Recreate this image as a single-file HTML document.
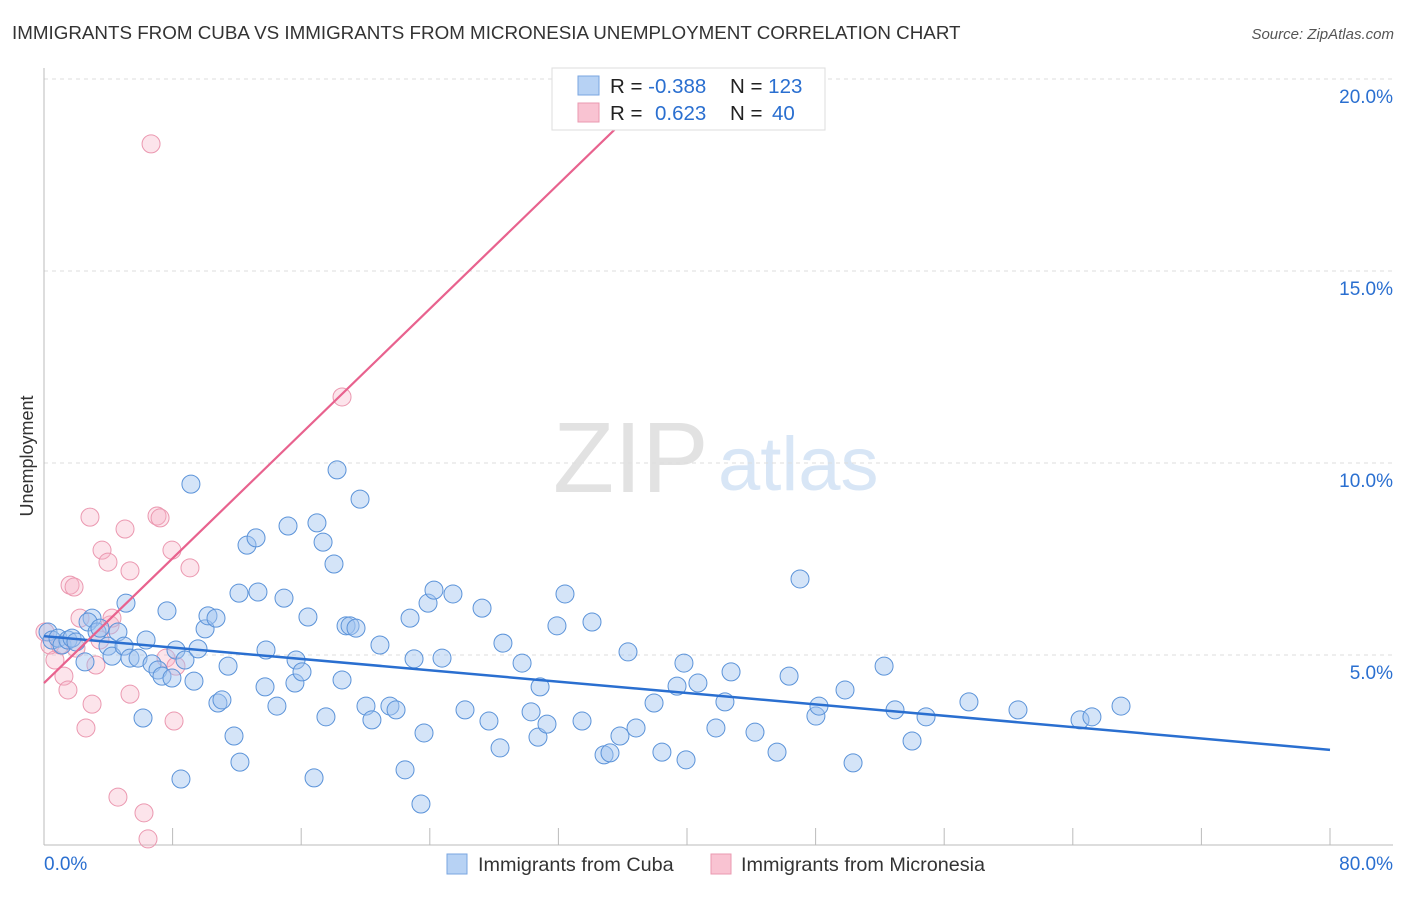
<!DOCTYPE html>
<html><head><meta charset="utf-8"><style>
body{margin:0;background:#fff;font-family:"Liberation Sans",sans-serif}
svg text{font-family:"Liberation Sans",sans-serif}
</style></head><body>
<svg width="1406" height="892" viewBox="0 0 1406 892" xmlns="http://www.w3.org/2000/svg">
<text x="12" y="39" font-size="18.8" fill="#333">IMMIGRANTS FROM CUBA VS IMMIGRANTS FROM MICRONESIA UNEMPLOYMENT CORRELATION CHART</text>
<text x="1394" y="39" font-size="15" fill="#555" font-style="italic" text-anchor="end">Source: ZipAtlas.com</text>
<g>
<text x="553" y="492" font-family="Liberation Serif" font-size="100" fill="#e2e2e2">ZIP</text>
<text x="718" y="490" font-size="76" fill="#d8e6f6">atlas</text>
</g>
<g id="grid"></g>
<g id="axes"></g>
<text transform="translate(33,456) rotate(-90)" font-size="18" fill="#333" text-anchor="middle">Unemployment</text>
<g id="pts"></g>
<g id="lines"></g>
<g>
<rect x="552" y="68" width="273" height="62" fill="#fff" stroke="#ddd"/>
<rect x="578" y="76" width="21" height="19" fill="#b7d2f4" stroke="#7aa6e0"/>
<rect x="578" y="103" width="21" height="19" fill="#f9c3d2" stroke="#ea9ab0"/>
<text x="610" y="93" font-size="20.5" fill="#222">R = <tspan fill="#2a6fd0">-0.388</tspan></text>
<text x="730" y="93" font-size="20.5" fill="#222">N = <tspan fill="#2a6fd0">123</tspan></text>
<text x="610" y="120" font-size="20.5" fill="#222">R = <tspan fill="#2a6fd0" x="655">0.623</tspan></text>
<text x="730" y="120" font-size="20.5" fill="#222">N = <tspan fill="#2a6fd0" x="772">40</tspan></text>
</g>
<g>
<rect x="447" y="854" width="20" height="20" fill="#b7d2f4" stroke="#7aa6e0"/>
<text x="478" y="871" font-size="19.8" fill="#333">Immigrants from Cuba</text>
<rect x="711" y="854" width="20" height="20" fill="#f9c3d2" stroke="#ea9ab0"/>
<text x="741" y="871" font-size="19.8" fill="#333">Immigrants from Micronesia</text>
</g>
</svg>
<script>
const blueX=[0.25,0.5,0.87,1.12,1.49,1.74,1.99,2.55,2.99,2.74,3.3,3.48,3.98,4.23,4.6,4.98,5.1,5.35,5.85,6.16,6.35,6.72,7.09,7.34,7.65,7.96,8.21,8.52,8.77,9.14,9.33,9.58,10.02,10.2,10.7,10.82,11.07,11.45,11.82,12.19,12.13,12.63,13.19,13.31,13.75,13.81,14.49,14.93,15.18,15.61,15.68,16.05,16.42,16.8,16.98,17.36,17.54,18.04,18.23,18.54,18.79,19.04,19.41,19.66,20.03,20.4,20.9,21.52,21.9,22.46,22.77,23.02,23.45,23.64,23.89,24.26,24.76,25.44,26.19,27.25,27.68,28.37,28.55,29.74,30.3,30.73,30.86,31.29,31.91,32.41,33.47,34.09,34.84,35.21,35.83,36.33,36.83,37.95,38.44,39.38,39.81,39.94,40.68,41.8,42.36,42.74,44.23,45.6,46.35,47.03,48.02,48.21,49.83,50.33,52.26,52.94,54,54.87,57.54,60.59,64.45,65.19,67];
const blueY=[5.6,5.39,5.44,5.26,5.39,5.44,5.34,4.82,5.96,5.86,5.6,5.7,5.23,4.97,5.6,5.23,6.35,4.92,4.92,3.36,5.39,4.77,4.61,4.45,6.15,4.4,5.13,1.77,4.87,9.45,4.32,5.16,5.68,6.02,5.96,3.75,3.83,4.71,2.89,2.21,6.61,7.86,8.05,6.64,4.17,5.13,3.67,6.48,8.36,4.27,4.87,4.56,5.99,1.8,8.44,7.94,3.39,7.37,9.82,4.35,5.76,5.76,5.7,9.06,3.67,3.31,5.26,3.67,3.57,2.01,5.96,4.9,1.12,2.97,6.35,6.69,4.92,6.59,3.57,6.22,3.28,2.58,5.31,4.79,3.52,2.86,4.17,3.2,5.76,6.59,3.28,5.86,2.4,2.45,2.89,5.08,3.1,3.75,2.47,4.19,4.79,2.27,4.27,3.1,3.78,4.56,2.99,2.47,4.45,6.98,3.41,3.67,4.09,2.19,4.71,3.57,2.76,3.39,3.78,3.57,3.31,3.39,3.67];
const pinkX=[0.06,0.37,0.68,1,1.24,1.49,1.62,1.87,1.99,2.24,2.61,2.86,2.99,3.23,3.48,3.61,3.98,4.11,4.23,4.6,5.04,5.35,5.35,6.22,6.47,6.66,7.03,7.22,7.59,7.96,8.09,8.21,9.08,18.54,32.22];
const pinkY=[5.6,5.26,4.87,5.26,4.45,4.09,6.82,6.77,5.18,5.96,3.1,8.59,3.72,4.74,5.39,7.73,7.42,5.78,5.96,1.3,8.28,7.19,3.98,0.89,0.21,18.31,8.62,8.57,4.92,7.73,3.28,4.71,7.27,11.72,19.35];
const blueTrend=[5.49,2.53]; // y at x=0 and x=80
const pinkTrend=[4.27,0.406]; // intercept, slope
const yTicks=[5,10,15,20];
const xTickLabels=["0.0%","80.0%"];
const NS="http://www.w3.org/2000/svg";
const sx=v=>44+v/80*1286, sy=v=>847-v*38.4;
function mk(tag,attrs,parent){const e=document.createElementNS(NS,tag);for(const k in attrs)e.setAttribute(k,attrs[k]);parent.appendChild(e);return e;}
const grid=document.getElementById('grid'),axes=document.getElementById('axes'),pts=document.getElementById('pts'),lines=document.getElementById('lines');
yTicks.forEach(t=>{
 const l=mk('line',{x1:44,x2:1393,y1:sy(t),y2:sy(t),stroke:'#ddd','stroke-dasharray':'4,4'},grid);
 
 
 const tx=mk('text',{x:1393,y:sy(t)+24,'font-size':19,fill:'#2a6fd0','text-anchor':'end'},grid);
 tx.textContent=t.toFixed(1)+'%';
 
 
});
const ya=mk('line',{x1:44,x2:44,y1:68,y2:845,stroke:'#bbb'},axes);


const xa=mk('line',{x1:44,x2:1393,y1:845,y2:845,stroke:'#bbb'},axes);


for(let i=1;i<=10;i++){const t=mk('line',{x1:sx(i*8),x2:sx(i*8),y1:828,y2:845,stroke:'#bbb'},axes);
 
 }
const xl0=mk('text',{x:44,y:870,'font-size':19,fill:'#2a6fd0'},axes);xl0.textContent=xTickLabels[0];


const xl1=mk('text',{x:1393,y:870,'font-size':19,fill:'#2a6fd0','text-anchor':'end'},axes);xl1.textContent=xTickLabels[1];


pinkX.forEach((x,i)=>{const c=mk('circle',{cx:sx(x),cy:sy(pinkY[i]),r:9,fill:'rgba(246,178,198,0.35)',stroke:'#eb98b0','stroke-width':1},pts);
 
 });
blueX.forEach((x,i)=>{const c=mk('circle',{cx:sx(x),cy:sy(blueY[i]),r:9,fill:'rgba(160,196,240,0.45)',stroke:'#5b93d9','stroke-width':1},pts);
 
 });
const bl=mk('line',{x1:sx(0),y1:sy(blueTrend[0]),x2:sx(80),y2:sy(blueTrend[1]),stroke:'#2a6fd0','stroke-width':2.5},lines);


const pxEnd=(19.82-pinkTrend[0])/pinkTrend[1];
const pl=mk('line',{x1:sx(0),y1:sy(pinkTrend[0]),x2:sx(pxEnd),y2:sy(pinkTrend[0]+pinkTrend[1]*pxEnd),stroke:'#e8628e','stroke-width':2.2},lines);


</script>
</body></html>
